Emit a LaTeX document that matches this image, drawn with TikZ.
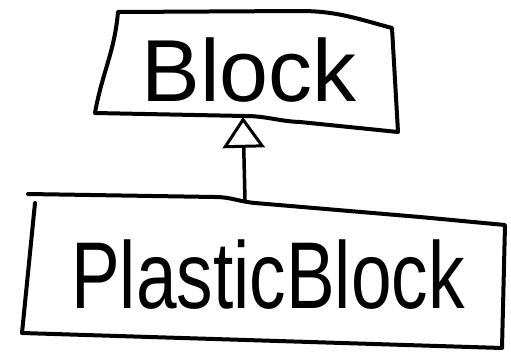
\documentclass[tikz,border=0pt]{standalone}
\usepackage{fontspec}
\setmainfont{Liberation Sans}
\usetikzlibrary{arrows.meta}
\tikzset{
  sketch/.style={line width=4pt,line join=round,line cap=round},
  inherit/.style={-{Triangle[open,length=22pt,width=30pt,line width=3pt,scale=1.4]},line width=3.5pt},
  cls/.style={inner sep=0pt,anchor=center}
}

\begin{document}
\begin{tikzpicture}[x=1pt,y=-1pt]
\useasboundingbox (0,0) rectangle (511,356);
% parent class
\draw[sketch] (118,12) -- (300,11) to[out=0,in=165] (392,28) -- (398,132)
  -- (300,122) to[out=178,in=0] (245,116) -- (95,113) to[out=80,in=265] (118,12);
\node[cls,font=\fontsize{88}{90}\selectfont] (block) at (249,70) {Block};
% child class
\draw[sketch] (28,194) -- (215,197) to[out=0,in=175] (255,203) -- (420,217)
  -- (505,225) -- (502,348) -- (22,333) -- (35,203);
\node[cls,font=\fontsize{73}{75}\selectfont,yscale=1.3,transform shape] (plastic) at (268,275) {PlasticBlock};
% inheritance
\coordinate (blockbot) at (243,117);
\coordinate (plastictop) at (245,200);
\draw[inherit] (plastictop) -- (blockbot);
\end{tikzpicture}
\end{document}
